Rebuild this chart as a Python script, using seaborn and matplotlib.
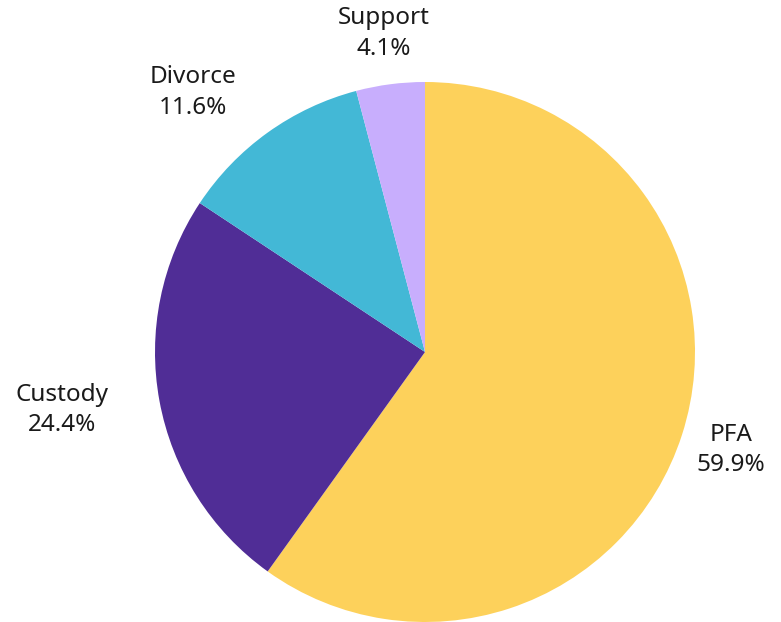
import numpy as np
import pandas as pd
import seaborn as sns
import matplotlib
matplotlib.use("Agg")
import matplotlib.pyplot as plt

CATEGORIES = ["PFA", "Custody", "Divorce", "Support"]
SHARES = [59.9, 24.4, 11.6, 4.1]
COLORS = ["#FDD15B", "#502D96", "#43B8D6", "#C8AEFD"]

# label placement: radial distance and small angle nudge (deg)
LABEL_R = [1.19, 1.36, 1.29, 1.19]
LABEL_NUDGE = [0.0, -1.4, 6.2, 0.0]

sns.set_style("white")
plt.rcParams["font.family"] = ["Noto Sans", "DejaVu Sans"]

df = pd.DataFrame({"category": CATEGORIES, "share": SHARES})

fig = plt.figure(figsize=(7.81, 6.22), dpi=100)
ax = fig.add_axes([0, 0, 1, 1])

wedges, _ = ax.pie(
    df["share"],
    colors=COLORS,
    startangle=90,
    counterclock=False,
    radius=1.0,
    wedgeprops={"linewidth": 0},
)

for w, cat, val, r, nudge in zip(wedges, df["category"], df["share"], LABEL_R, LABEL_NUDGE):
    mid = np.deg2rad((w.theta1 + w.theta2) / 2 + nudge)
    ax.text(r * np.cos(mid), r * np.sin(mid), f"{cat}\n{val:.1f}%",
            ha="center", va="center", fontsize=17.5, color="#1a1a1a",
            linespacing=1.35)

ax.set_xlim(-425 / 270, 356 / 270)
ax.set_ylim(-1.0, 352 / 270)
ax.axis("off")

fig.savefig("out.png", dpi=100)
